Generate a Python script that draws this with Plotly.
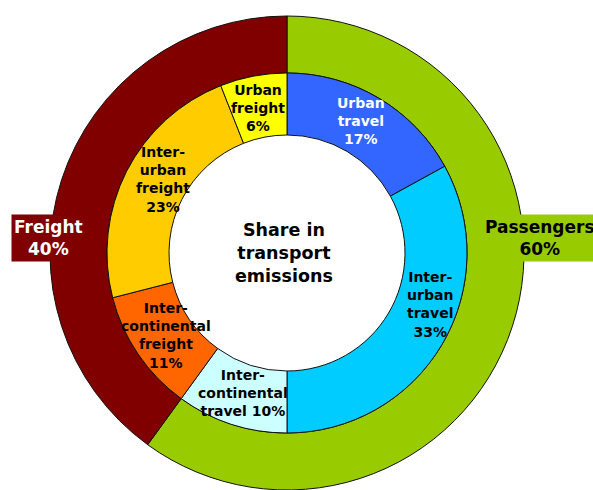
import plotly.graph_objects as go

# ---- data ----
outer_labels = ["Passengers", "Freight"]
outer_values = [60, 40]
outer_colors = ["#99cc00", "#800000"]

inner_labels = ["Urban travel", "Inter-urban travel", "Inter-continental travel",
                "Inter-continental freight", "Inter-urban freight", "Urban freight"]
inner_values = [17, 33, 10, 11, 23, 6]
inner_colors = ["#3366ff", "#00ccff", "#ccffff", "#ff6600", "#ffcc00", "#ffff00"]
inner_text = ["Urban<br>travel<br>17%", "Inter-<br>urban<br>travel<br>33%",
              "Inter-<br>continental<br>travel 10%", "Inter-<br>continental<br>freight<br>11%",
              "Inter-<br>urban<br>freight<br>23%", "Urban<br>freight<br>6%"]
inner_text_colors = ["white", "black", "black", "black", "black", "black"]

center_title = "Share in<br>transport<br>emissions"

# ---- layout (pixels, y measured from top) ----
W, H = 593, 490
cx, cy_top = 287, 253
cy = H - cy_top
R_out, R_mid, R_in = 237, 180, 118
FONT = "DejaVu Sans"
inner_label_px = [(361, 121), (430, 304), (243, 393), (166, 335), (163, 180), (258, 108)]
outer_label_px = [(540, 238), (48, 238)]
center_px = (284, 253)

fig = go.Figure()

fig.add_trace(go.Pie(
    labels=outer_labels, values=outer_values, sort=False,
    direction="clockwise", rotation=0,
    hole=R_mid / R_out,
    marker=dict(colors=outer_colors, line=dict(color="#111111", width=1)),
    textinfo="none", hoverinfo="skip",
    domain=dict(x=[(cx - R_out) / W, (cx + R_out) / W],
                y=[(cy - R_out) / H, (cy + R_out) / H]),
    showlegend=False,
))

fig.add_trace(go.Pie(
    labels=inner_labels, values=inner_values, sort=False,
    direction="clockwise", rotation=0,
    hole=R_in / R_mid,
    marker=dict(colors=inner_colors, line=dict(color="#111111", width=1)),
    textinfo="none", hoverinfo="skip",
    domain=dict(x=[(cx - R_mid) / W, (cx + R_mid) / W],
                y=[(cy - R_mid) / H, (cy + R_mid) / H]),
    showlegend=False,
))

def px(x, y_top):
    return x / W, (H - y_top) / H

annotations = []
ax, ay = px(*center_px)
annotations.append(dict(text=center_title, x=ax, y=ay, xref="paper", yref="paper",
                        showarrow=False, xanchor="center", yanchor="middle",
                        font=dict(family=FONT, size=17.5, color="black", weight="bold")))

for txt, col, (lx, ly) in zip(inner_text, inner_text_colors, inner_label_px):
    ax, ay = px(lx, ly)
    annotations.append(dict(text=txt, x=ax, y=ay, xref="paper", yref="paper",
                            showarrow=False, xanchor="center", yanchor="middle",
                            font=dict(family=FONT, size=14, color=col, weight="bold")))

outer_font_colors = ["black", "white"]
for lab, val, bg, fc, (lx, ly) in zip(outer_labels, outer_values, outer_colors,
                                      outer_font_colors, outer_label_px):
    ax, ay = px(lx, ly)
    annotations.append(dict(text=f"{lab}<br>{val}%", x=ax, y=ay, xref="paper", yref="paper",
                            showarrow=False, xanchor="center", yanchor="middle",
                            bgcolor=bg, borderpad=2,
                            font=dict(family=FONT, size=17, color=fc, weight="bold")))

fig.update_layout(
    width=W, height=H, margin=dict(l=0, r=0, t=0, b=0),
    paper_bgcolor="white", plot_bgcolor="white",
    annotations=annotations,
)

fig.write_html("out.html",
               config={"displayModeBar": False},
               post_script="document.body.style.margin='0px';"
                           "document.body.style.overflow='hidden';")
